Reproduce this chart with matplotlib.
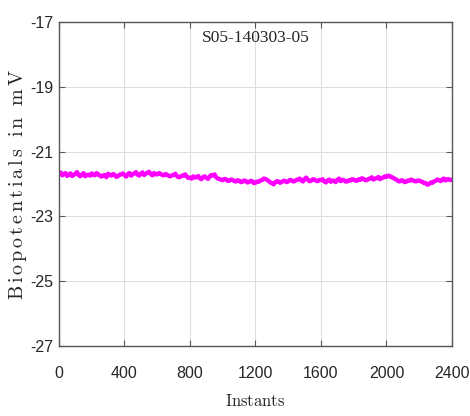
import numpy as np
import matplotlib
matplotlib.use("Agg")
import matplotlib.pyplot as plt

plt.rcParams['mathtext.fontset'] = 'cm'

# biopotential samples, one every 10 instants (0 .. 2400)
step = 10
signal_mv = [
    -21.69, -21.64, -21.73, -21.70, -21.66, -21.75, -21.71, -21.67, -21.75, -21.72,
    -21.68, -21.63, -21.72, -21.76, -21.70, -21.66, -21.76, -21.72, -21.71, -21.74,
    -21.67, -21.71, -21.73, -21.66, -21.70, -21.74, -21.77, -21.73, -21.72, -21.79,
    -21.68, -21.72, -21.74, -21.69, -21.71, -21.78, -21.76, -21.71, -21.70, -21.67,
    -21.73, -21.77, -21.69, -21.66, -21.74, -21.70, -21.67, -21.63, -21.71, -21.74,
    -21.68, -21.64, -21.72, -21.68, -21.65, -21.62, -21.69, -21.73, -21.66, -21.70,
    -21.70, -21.66, -21.68, -21.72, -21.73, -21.69, -21.71, -21.75, -21.76, -21.73,
    -21.72, -21.68, -21.75, -21.79, -21.78, -21.74, -21.74, -21.70, -21.77, -21.81,
    -21.80, -21.83, -21.76, -21.80, -21.79, -21.75, -21.82, -21.85, -21.78, -21.76,
    -21.81, -21.84, -21.77, -21.72, -21.74, -21.70, -21.79, -21.83, -21.84, -21.87,
    -21.88, -21.84, -21.85, -21.90, -21.90, -21.86, -21.87, -21.91, -21.92, -21.88,
    -21.89, -21.94, -21.93, -21.89, -21.90, -21.95, -21.94, -21.90, -21.91, -21.97,
    -21.96, -21.92, -21.93, -21.89, -21.88, -21.83, -21.84, -21.87, -21.90, -21.95,
    -21.97, -22.01, -21.95, -21.91, -21.92, -21.96, -21.94, -21.90, -21.90, -21.94,
    -21.92, -21.87, -21.88, -21.92, -21.91, -21.87, -21.86, -21.83, -21.89, -21.92,
    -21.84, -21.80, -21.87, -21.91, -21.90, -21.85, -21.86, -21.90, -21.91, -21.87,
    -21.88, -21.85, -21.92, -21.95, -21.89, -21.86, -21.93, -21.89, -21.90, -21.94,
    -21.87, -21.83, -21.91, -21.87, -21.88, -21.92, -21.92, -21.88, -21.89, -21.85,
    -21.86, -21.89, -21.90, -21.85, -21.87, -21.82, -21.84, -21.88, -21.88, -21.84,
    -21.83, -21.79, -21.86, -21.83, -21.82, -21.78, -21.85, -21.81, -21.80, -21.76,
    -21.78, -21.74, -21.75, -21.79, -21.80, -21.84, -21.86, -21.90, -21.92, -21.88,
    -21.89, -21.94, -21.93, -21.89, -21.90, -21.86, -21.88, -21.91, -21.92, -21.89,
    -21.89, -21.92, -21.93, -21.97, -21.97, -22.02, -22.00, -21.95, -21.96, -21.92,
    -21.90, -21.86, -21.88, -21.91, -21.86, -21.83, -21.89, -21.85, -21.85, -21.88,
    -21.86,
]
instants = np.arange(len(signal_mv)) * step

xticks = [0, 400, 800, 1200, 1600, 2000, 2400]
yticks = [-17, -19, -21, -23, -25, -27]
record_id = "S05-140303-05"
ylabel_words = ["Biopotentials", "in", "mV"]

fig = plt.figure(figsize=(4.7, 4.16), dpi=100)
ax = fig.add_axes([0.1255, 0.168, 0.8362, 0.779])

ax.plot(instants, signal_mv, color="#ff00ff", lw=3.1)

ax.set_xlim(0, 2400)
ax.set_ylim(-27, -17)
ax.set_xticks(xticks)
ax.set_yticks(yticks)
tick_font = dict(family="Liberation Sans", size=11.5)
ax.set_xticklabels([str(v) for v in xticks], **tick_font)
ax.set_yticklabels([str(v) for v in yticks], **tick_font)
ax.tick_params(direction="in", length=4, width=0.8, color="#555555",
               top=True, right=True, labelcolor="#262626")
ax.tick_params(axis="x", pad=14)
ax.tick_params(axis="y", pad=4)
ax.grid(True, color="#dcdcdc", lw=0.7)
for s in ax.spines.values():
    s.set_color("#555555")
    s.set_linewidth(1.0)

# spaced-out letters for the vertical label
spaced = r"\ \ ".join(r"\,".join(w) for w in ylabel_words)
ax.set_ylabel(r"$\mathrm{" + spaced + "}$", size=14.5, color="#262626",
              labelpad=1)
ax.set_xlabel(r"$\mathrm{Instants}$", size=12, color="#262626", labelpad=8)
ax.text(0.5, 0.975, record_id, transform=ax.transAxes, ha="center", va="top",
        family="Liberation Serif", size=12.5, color="#262626")

plt.savefig("out.png", dpi=100)
